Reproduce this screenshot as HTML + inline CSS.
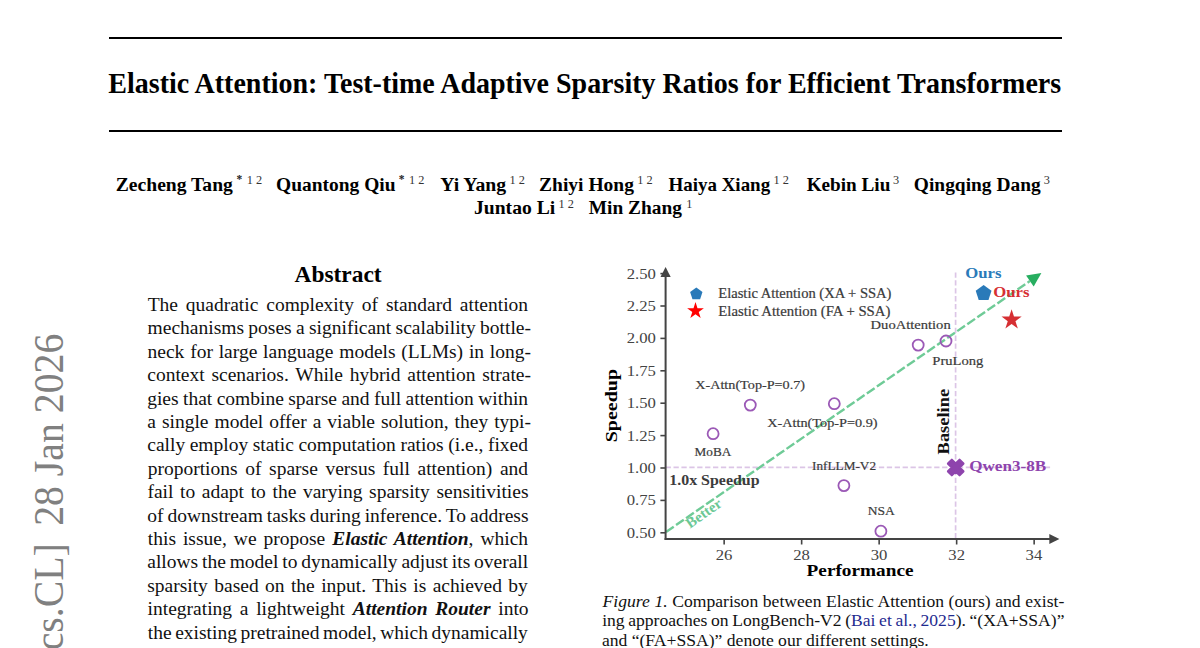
<!DOCTYPE html>
<html>
<head>
<meta charset="utf-8">
<title>Elastic Attention</title>
<style>
html,body{margin:0;padding:0;background:#fff;}
body{width:1200px;height:648px;overflow:hidden;position:relative;}
svg{position:absolute;left:0;top:0;display:block;}
text{font-family:"Liberation Serif",serif;white-space:pre;}
</style>
</head>
<body>
<svg width="1200" height="648" viewBox="0 0 1200 648">
<rect x="109" y="37" width="953" height="2" fill="#000"/>
<rect x="109" y="130" width="953" height="2" fill="#000"/>
<text transform="translate(108.32,92.50) scale(0.9332,1.0)" font-size="30.0" font-weight="bold" fill="#000">Elastic Attention: Test-time Adaptive Sparsity Ratios for Efficient Transformers</text>
<text transform="translate(115.76,190.80) scale(1.0059,1.0)" font-size="19.5" font-weight="bold" fill="#000">Zecheng Tang</text>
<text transform="translate(236.52,183.25) scale(1.0000,1)" font-size="11.5" font-weight="bold" fill="#222">*</text>
<text transform="translate(246.66,184.25) scale(0.9500,1)" font-size="13.0" fill="#333">1</text>
<text transform="translate(255.96,184.25) scale(0.9500,1)" font-size="13.0" fill="#333">2</text>
<text transform="translate(276.05,190.80) scale(0.9977,1.0)" font-size="19.5" font-weight="bold" fill="#000">Quantong Qiu</text>
<text transform="translate(398.77,183.25) scale(1.0000,1)" font-size="11.5" font-weight="bold" fill="#222">*</text>
<text transform="translate(408.91,184.25) scale(0.9500,1)" font-size="13.0" fill="#333">1</text>
<text transform="translate(418.21,184.25) scale(0.9500,1)" font-size="13.0" fill="#333">2</text>
<text transform="translate(440.15,190.80) scale(1.0130,1.0)" font-size="19.5" font-weight="bold" fill="#000">Yi Yang</text>
<text transform="translate(509.41,184.25) scale(0.9500,1)" font-size="13.0" fill="#333">1</text>
<text transform="translate(518.71,184.25) scale(0.9500,1)" font-size="13.0" fill="#333">2</text>
<text transform="translate(539.07,190.80) scale(1.0005,1.0)" font-size="19.5" font-weight="bold" fill="#000">Zhiyi Hong</text>
<text transform="translate(637.16,184.25) scale(0.9500,1)" font-size="13.0" fill="#333">1</text>
<text transform="translate(646.46,184.25) scale(0.9500,1)" font-size="13.0" fill="#333">2</text>
<text transform="translate(668.43,190.80) scale(0.9733,1.0)" font-size="19.5" font-weight="bold" fill="#000">Haiya Xiang</text>
<text transform="translate(773.41,184.25) scale(0.9500,1)" font-size="13.0" fill="#333">1</text>
<text transform="translate(782.71,184.25) scale(0.9500,1)" font-size="13.0" fill="#333">2</text>
<text transform="translate(806.67,190.80) scale(0.9844,1.0)" font-size="19.5" font-weight="bold" fill="#000">Kebin Liu</text>
<text transform="translate(893.11,184.25) scale(0.9500,1)" font-size="13.0" fill="#333">3</text>
<text transform="translate(913.85,190.80) scale(0.9961,1.0)" font-size="19.5" font-weight="bold" fill="#000">Qingqing Dang</text>
<text transform="translate(1043.71,184.25) scale(0.9500,1)" font-size="13.0" fill="#333">3</text>
<text transform="translate(473.93,214.20) scale(1.0078,1.0)" font-size="19.5" font-weight="bold" fill="#000">Juntao Li</text>
<text transform="translate(558.41,207.65) scale(0.9500,1)" font-size="13.0" fill="#333">1</text>
<text transform="translate(567.71,207.65) scale(0.9500,1)" font-size="13.0" fill="#333">2</text>
<text transform="translate(588.77,214.20) scale(0.9945,1.0)" font-size="19.5" font-weight="bold" fill="#000">Min Zhang</text>
<text transform="translate(686.21,207.65) scale(0.9500,1)" font-size="13.0" fill="#333">1</text>
<text transform="translate(294.57,282.00) scale(1.0395,1.0)" font-size="22.5" font-weight="bold" fill="#000">Abstract</text>
<text x="147.65" y="311.00" font-size="19.5" fill="#111" style="word-spacing:2.989px">The quadratic complexity of standard attention</text>
<text x="147.59" y="334.40" font-size="19.5" fill="#111" style="word-spacing:-0.540px">mechanisms poses a significant scalability bottle-</text>
<text x="147.55" y="357.80" font-size="19.5" fill="#111" style="word-spacing:0.912px">neck for large language models (LLMs) in long-</text>
<text x="147.26" y="381.20" font-size="19.5" fill="#111" style="word-spacing:1.878px">context scenarios. While hybrid attention strate-</text>
<text x="147.16" y="404.60" font-size="19.5" fill="#111" style="word-spacing:-0.432px">gies that combine sparse and full attention within</text>
<text x="147.31" y="428.00" font-size="19.5" fill="#111" style="word-spacing:1.095px">a single model offer a viable solution, they typi-</text>
<text x="147.26" y="451.40" font-size="19.5" fill="#111" style="word-spacing:-0.345px">cally employ static computation ratios (i.e., fixed</text>
<text x="147.69" y="474.80" font-size="19.5" fill="#111" style="word-spacing:2.739px">proportions of sparse versus full attention) and</text>
<text x="147.40" y="498.20" font-size="19.5" fill="#111" style="word-spacing:1.757px">fail to adapt to the varying sparsity sensitivities</text>
<text x="147.26" y="521.60" font-size="19.5" fill="#111" style="word-spacing:-0.883px">of downstream tasks during inference. To address</text>
<text x="147.81" y="545.00" font-size="19.5" fill="#111" style="word-spacing:2.107px">this issue, we propose <tspan font-weight="bold" font-style="italic">Elastic Attention</tspan>, which</text>
<text x="147.31" y="568.40" font-size="19.5" fill="#111" style="word-spacing:-1.060px">allows the model to dynamically adjust its overall</text>
<text x="147.20" y="591.80" font-size="19.5" fill="#111" style="word-spacing:1.528px">sparsity based on the input. This is achieved by</text>
<text x="147.59" y="615.20" font-size="19.5" fill="#111" style="word-spacing:2.850px">integrating a lightweight <tspan font-weight="bold" font-style="italic">Attention Router</tspan> into</text>
<text x="147.81" y="638.60" font-size="19.5" fill="#111" style="word-spacing:-1.314px">the existing pretrained model, which dynamically</text>
<text x="602.59" y="606.50" font-size="17.6" fill="#111" style="word-spacing:0.196px"><tspan font-style="italic">Figure 1.</tspan> Comparison between Elastic Attention (ours) and exist-</text>
<text x="602.13" y="626.00" font-size="17.6" fill="#111" style="word-spacing:-0.795px">ing approaches on LongBench-V2 (<tspan fill="#1f2b8f">Bai et al., 2025</tspan>). “(XA+SSA)”</text>
<text x="601.88" y="645.5" font-size="17.6" fill="#111">and “(FA+SSA)” denote our different settings.</text>
<text transform="translate(63,525.85) rotate(-90) scale(0.925,1)" font-size="43.0" fill="#808080">28 Jan 2026</text>
<text transform="translate(63,663.54) rotate(-90) scale(0.925,1)" font-size="43.0" fill="#808080">[cs.CL]</text>
<line x1="665.6" y1="467.4" x2="1052" y2="467.4" stroke="#dcc5e6" stroke-width="1.7" stroke-dasharray="5.3 2.6"/>
<line x1="955.6" y1="272.4" x2="955.6" y2="539.0" stroke="#dcc5e6" stroke-width="1.7" stroke-dasharray="5.3 2.6"/>
<line x1="666.0" y1="532.0" x2="1029.88" y2="281.05" stroke="#6fcb97" stroke-width="2.4" stroke-dasharray="9.4 2.8"/>
<polygon points="1041.4,273.1 1033.68,286.56 1026.07,275.53" fill="#27ae60"/>
<line x1="665.6" y1="540.0" x2="665.6" y2="276" stroke="#444" stroke-width="2"/>
<polygon points="665.6,267 660.5,277.1 670.7,277.1" fill="#444"/>
<line x1="664.6" y1="539.0" x2="1050" y2="539.0" stroke="#444" stroke-width="2"/>
<polygon points="1059.4,539.0 1049.3,533.9 1049.3,544.1" fill="#444"/>
<line x1="660.4" y1="532.80" x2="665.6" y2="532.80" stroke="#444" stroke-width="1.6"/>
<text transform="translate(626.72,537.75) scale(1.07,1)" font-size="15.6" fill="#444">0.50</text>
<line x1="660.4" y1="500.40" x2="665.6" y2="500.40" stroke="#444" stroke-width="1.6"/>
<text transform="translate(626.74,505.35) scale(1.07,1)" font-size="15.6" fill="#444">0.75</text>
<line x1="660.4" y1="468.00" x2="665.6" y2="468.00" stroke="#444" stroke-width="1.6"/>
<text transform="translate(626.72,472.95) scale(1.07,1)" font-size="15.6" fill="#444">1.00</text>
<line x1="660.4" y1="435.60" x2="665.6" y2="435.60" stroke="#444" stroke-width="1.6"/>
<text transform="translate(626.74,440.55) scale(1.07,1)" font-size="15.6" fill="#444">1.25</text>
<line x1="660.4" y1="403.20" x2="665.6" y2="403.20" stroke="#444" stroke-width="1.6"/>
<text transform="translate(626.72,408.15) scale(1.07,1)" font-size="15.6" fill="#444">1.50</text>
<line x1="660.4" y1="370.80" x2="665.6" y2="370.80" stroke="#444" stroke-width="1.6"/>
<text transform="translate(626.74,375.75) scale(1.07,1)" font-size="15.6" fill="#444">1.75</text>
<line x1="660.4" y1="338.40" x2="665.6" y2="338.40" stroke="#444" stroke-width="1.6"/>
<text transform="translate(626.72,343.35) scale(1.07,1)" font-size="15.6" fill="#444">2.00</text>
<line x1="660.4" y1="306.00" x2="665.6" y2="306.00" stroke="#444" stroke-width="1.6"/>
<text transform="translate(626.74,310.95) scale(1.07,1)" font-size="15.6" fill="#444">2.25</text>
<line x1="660.4" y1="273.60" x2="665.6" y2="273.60" stroke="#444" stroke-width="1.6"/>
<text transform="translate(626.72,278.55) scale(1.07,1)" font-size="15.6" fill="#444">2.50</text>
<line x1="724.15" y1="539.0" x2="724.15" y2="544.5" stroke="#444" stroke-width="1.6"/>
<text transform="translate(715.69,560.3) scale(1.07,1)" font-size="15.6" fill="#444">26</text>
<line x1="801.65" y1="539.0" x2="801.65" y2="544.5" stroke="#444" stroke-width="1.6"/>
<text transform="translate(793.26,560.3) scale(1.07,1)" font-size="15.6" fill="#444">28</text>
<line x1="879.15" y1="539.0" x2="879.15" y2="544.5" stroke="#444" stroke-width="1.6"/>
<text transform="translate(870.72,560.3) scale(1.07,1)" font-size="15.6" fill="#444">30</text>
<line x1="956.65" y1="539.0" x2="956.65" y2="544.5" stroke="#444" stroke-width="1.6"/>
<text transform="translate(948.37,560.3) scale(1.07,1)" font-size="15.6" fill="#444">32</text>
<line x1="1034.15" y1="539.0" x2="1034.15" y2="544.5" stroke="#444" stroke-width="1.6"/>
<text transform="translate(1025.54,560.3) scale(1.07,1)" font-size="15.6" fill="#444">34</text>
<circle cx="713.1" cy="433.7" r="5.5" fill="none" stroke="#9b59b6" stroke-width="1.8"/>
<circle cx="750.3" cy="405.1" r="5.5" fill="none" stroke="#9b59b6" stroke-width="1.8"/>
<circle cx="834.3" cy="403.7" r="5.5" fill="none" stroke="#9b59b6" stroke-width="1.8"/>
<circle cx="843.9" cy="485.6" r="5.5" fill="none" stroke="#9b59b6" stroke-width="1.8"/>
<circle cx="880.9" cy="531.2" r="5.5" fill="none" stroke="#9b59b6" stroke-width="1.8"/>
<circle cx="918.2" cy="345.1" r="5.5" fill="none" stroke="#9b59b6" stroke-width="1.8"/>
<circle cx="946.0" cy="341.0" r="5.5" fill="none" stroke="#9b59b6" stroke-width="1.8"/>
<polygon points="959.57,459.77 963.43,463.63 959.57,467.50 963.43,471.37 959.57,475.23 955.70,471.37 951.83,475.23 947.97,471.37 951.83,467.50 947.97,463.63 951.83,459.77 955.70,463.63" fill="#8e44ad" stroke="#8e44ad" stroke-width="2.2" stroke-linejoin="round"/>
<polygon points="983.60,285.00 991.49,290.74 988.48,300.01 978.72,300.01 975.71,290.74" fill="#2a7ab9"/>
<polygon points="1011.60,309.30 1013.98,316.62 1021.68,316.62 1015.45,321.15 1017.83,328.48 1011.60,323.95 1005.37,328.48 1007.75,321.15 1001.52,316.62 1009.22,316.62" fill="#d62f33"/>
<polygon points="696.30,287.40 702.48,291.89 700.12,299.16 692.48,299.16 690.12,291.89" fill="#2a7ab9"/>
<polygon points="695.50,302.10 697.48,308.18 703.87,308.18 698.70,311.94 700.67,318.02 695.50,314.26 690.33,318.02 692.30,311.94 687.13,308.18 693.52,308.18" fill="#ff0000"/>
<text transform="translate(718.28,298.00) scale(1.0715,1.0)" font-size="13.6" fill="#3a3a3a" stroke="#3a3a3a" stroke-width="0.2">Elastic Attention (XA + SSA)</text>
<text transform="translate(718.27,316.00) scale(1.0873,1.0)" font-size="13.6" fill="#3a3a3a" stroke="#3a3a3a" stroke-width="0.2">Elastic Attention (FA + SSA)</text>
<text transform="translate(695.19,389.00) scale(1.0675,1.0)" font-size="13.3" fill="#3a3a3a" stroke="#3a3a3a" stroke-width="0.2">X-Attn(Top-P=0.7)</text>
<text transform="translate(767.29,427.30) scale(1.0714,1.0)" font-size="13.3" fill="#3a3a3a" stroke="#3a3a3a" stroke-width="0.2">X-Attn(Top-P=0.9)</text>
<text transform="translate(694.62,456.00) scale(0.9953,1.0)" font-size="13.3" fill="#3a3a3a" stroke="#3a3a3a" stroke-width="0.2">MoBA</text>
<text transform="translate(812.02,469.60) scale(0.9976,1.0)" font-size="13.3" fill="#3a3a3a" stroke="#3a3a3a" stroke-width="0.2">InfLLM-V2</text>
<text transform="translate(870.58,329.30) scale(1.0970,1.0)" font-size="13.3" fill="#3a3a3a" stroke="#3a3a3a" stroke-width="0.2">DuoAttention</text>
<text transform="translate(932.28,364.60) scale(1.0977,1.0)" font-size="13.3" fill="#3a3a3a" stroke="#3a3a3a" stroke-width="0.2">PruLong</text>
<text transform="translate(867.81,514.90) scale(1.0181,1.0)" font-size="13.3" fill="#3a3a3a" stroke="#3a3a3a" stroke-width="0.2">NSA</text>
<text transform="translate(965.18,277.70) scale(1.1144,1.0)" font-size="15.0" font-weight="bold" fill="#2a7ab9">Ours</text>
<text transform="translate(993.18,297.20) scale(1.1144,1.0)" font-size="15.0" font-weight="bold" fill="#d62f33">Ours</text>
<text transform="translate(969.16,471.20) scale(1.1579,1.0)" font-size="14.8" font-weight="bold" fill="#8e44ad">Qwen3-8B</text>
<text transform="translate(669.22,484.90) scale(1.1394,1.0)" font-size="14.0" font-weight="bold" fill="#3c3c3c">1.0x Speedup</text>
<text transform="translate(806.57,575.80) scale(1.1612,1.0)" font-size="16.6" font-weight="bold" fill="#000">Performance</text>
<text transform="translate(617.20,442.37) rotate(-90.00) scale(1.1782,1)" font-size="17.0" font-weight="bold" fill="#000">Speedup</text>
<text transform="translate(949.10,454.41) rotate(-90.00) scale(1.1674,1)" font-size="15.8" font-weight="bold" fill="#111">Baseline</text>
<text transform="translate(690.10,528.74) rotate(-35.20) scale(1.0372,1)" font-size="14.5" font-weight="bold" fill="#6cc895">Better</text>
</svg>
</body>
</html>
